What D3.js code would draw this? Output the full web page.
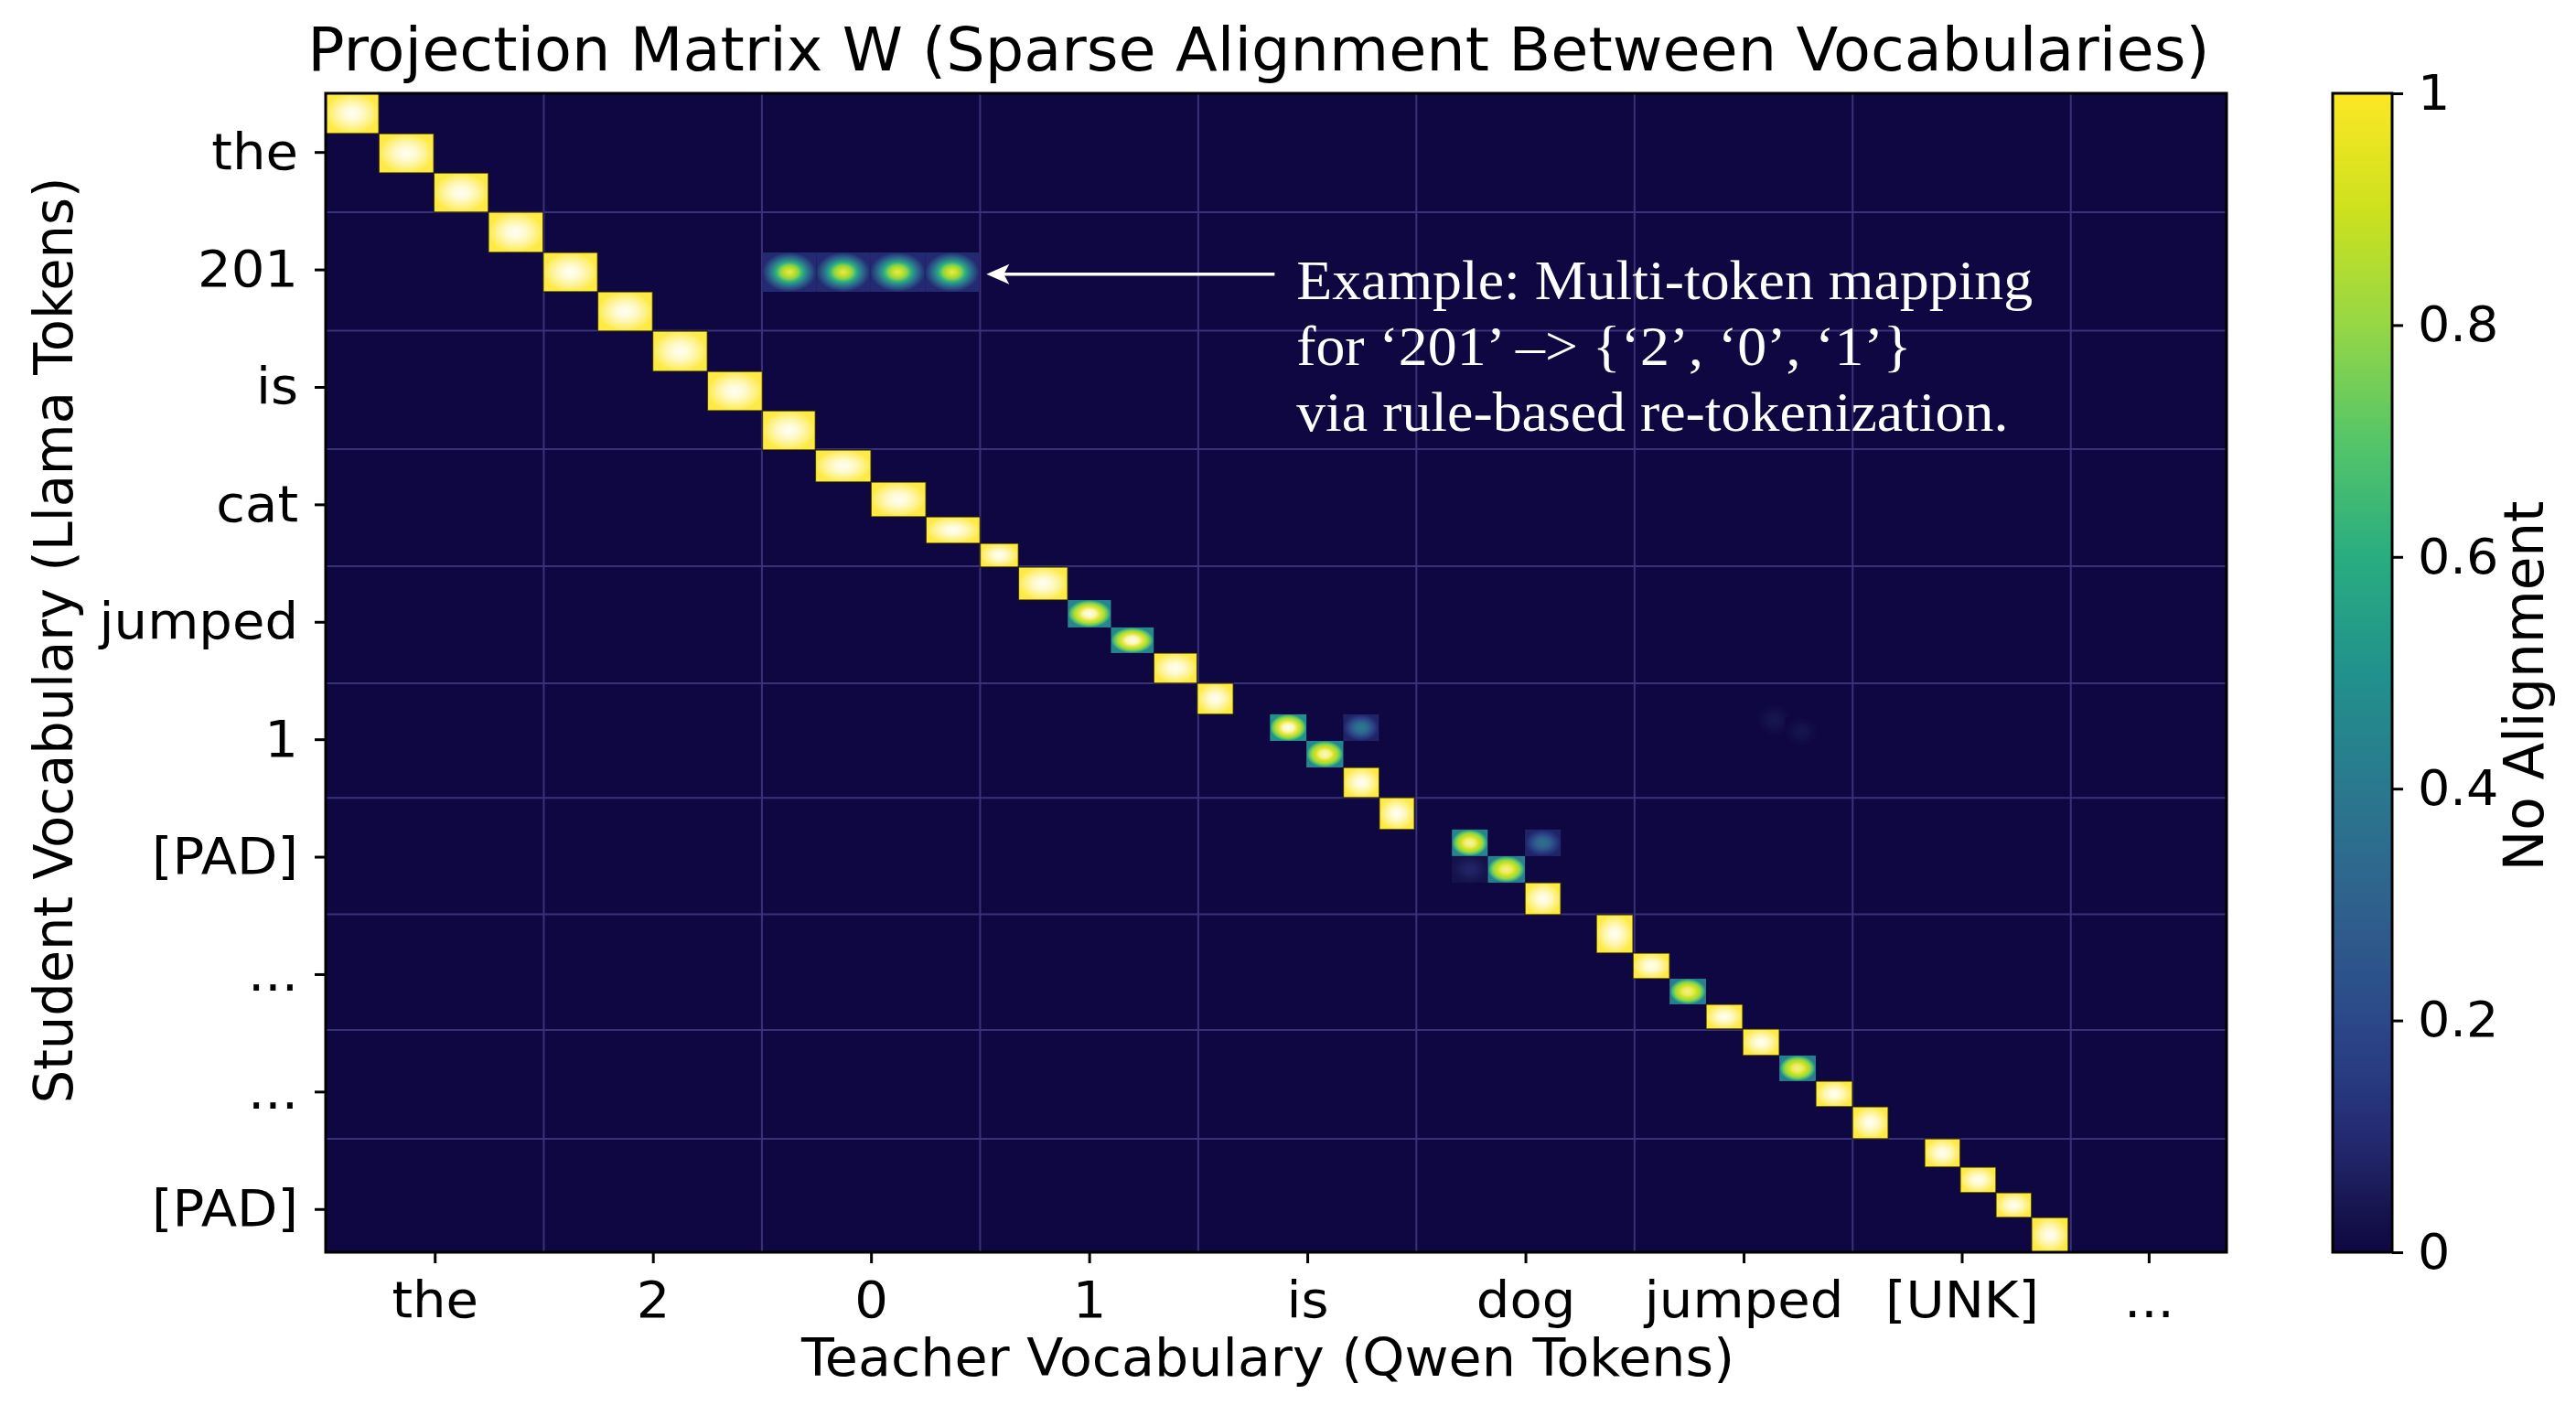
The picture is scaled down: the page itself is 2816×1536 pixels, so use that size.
<!DOCTYPE html>
<html><head><meta charset="utf-8">
<script src="https://cdn.jsdelivr.net/npm/d3@7"></script>
<style>
html,body{margin:0;padding:0;background:#fff;}
svg{display:block;}
</style></head><body>
<svg id="chart" width="2816" height="1536"></svg>
<script>
// ================= DATA =================
const teacherTokens = ["the", "2", "0", "1", "is", "dog", "jumped", "[UNK]", "..."];
const studentTokens = ["the", "201", "is", "cat", "jumped", "1", "[PAD]", "...", "...", "[PAD]"];
// visible extent of each axis, in token-band units
const teacherExtent = 8.714;
const studentExtent = 9.868;
// band boundaries (grid lines)
const teacherBandEdges = [1, 2, 3, 4, 5, 6, 7, 8];
const studentBandEdges = [1.012, 2.021, 3.03, 4.026, 5.023, 6.0, 6.99, 7.975, 8.902];
const colorbarTicks = [0, 0.2, 0.4, 0.6, 0.8, 1];

// non-zero entries of W: [teacherStart, teacherEnd, studentStart, studentEnd, peak, rim]
const diagonalCells = [
  [0.000, 0.244, 0.000, 0.343, 1, 1],
  [0.244, 0.496, 0.343, 0.678, 1, 1],
  [0.496, 0.746, 0.678, 1.012, 1, 1],
  [0.746, 0.997, 1.012, 1.355, 1, 1],
  [0.997, 1.247, 1.355, 1.690, 1, 1],
  [1.247, 1.499, 1.690, 2.025, 1, 1],
  [1.499, 1.750, 2.025, 2.368, 1, 1],
  [1.750, 2.002, 2.368, 2.703, 1, 1],
  [2.002, 2.245, 2.703, 3.037, 1, 1],
  [2.245, 2.500, 3.037, 3.310, 1, 1],
  [2.500, 2.752, 3.310, 3.606, 1, 1],
  [2.752, 3.000, 3.606, 3.832, 1, 1],
  [3.000, 3.176, 3.832, 4.034, 1, 1],
  [3.176, 3.402, 4.034, 4.315, 1, 1],
  [3.402, 3.600, 4.315, 4.548, 1, 0.45],
  [3.600, 3.796, 4.548, 4.766, 1, 0.45],
  [3.796, 3.995, 4.766, 5.023, 1, 1],
  [3.995, 4.161, 5.023, 5.288, 1, 1],
  [4.329, 4.496, 5.288, 5.514, 1, 0.5],
  [4.496, 4.665, 5.514, 5.740, 0.98, 0.45],
  [4.665, 4.830, 5.740, 5.997, 1, 1],
  [4.830, 4.991, 5.997, 6.269, 1, 1],
  [5.163, 5.327, 6.269, 6.495, 0.97, 0.45],
  [5.327, 5.498, 6.495, 6.721, 0.96, 0.42],
  [5.498, 5.662, 6.721, 6.994, 1, 1],
  [5.825, 5.993, 6.994, 7.321, 1, 1],
  [5.993, 6.161, 7.321, 7.539, 1, 1],
  [6.161, 6.328, 7.539, 7.757, 0.96, 0.42],
  [6.328, 6.496, 7.757, 7.967, 1, 1],
  [6.496, 6.664, 7.967, 8.193, 1, 1],
  [6.664, 6.831, 8.193, 8.411, 0.96, 0.42],
  [6.831, 6.999, 8.411, 8.629, 1, 1],
  [6.999, 7.163, 8.629, 8.902, 1, 1],
  [7.330, 7.493, 8.902, 9.143, 1, 1],
  [7.493, 7.657, 9.143, 9.361, 1, 1],
  [7.657, 7.820, 9.361, 9.572, 1, 1],
  [7.820, 7.988, 9.572, 9.868, 1, 1]
];
// '201' -> {'2','0','1'} multi-token row
const multiTokenCells = [
  [2.002, 2.249, 1.355, 1.690, 0.94, 0.1],
  [2.249, 2.496, 1.355, 1.690, 0.94, 0.1],
  [2.496, 2.748, 1.355, 1.690, 0.94, 0.1],
  [2.748, 2.995, 1.355, 1.690, 0.94, 0.1]
];
const weakCells = [
  [4.665, 4.828, 5.288, 5.514, 0.40, 0.08],
  [5.498, 5.662, 6.269, 6.495, 0.36, 0.08],
  [5.163, 5.327, 6.495, 6.721, 0.08, 0.03],
  [6.56, 6.72, 5.20, 5.47, 0.04, 0],
  [6.69, 6.84, 5.31, 5.56, 0.035, 0]
];
const annotationLines = ["Example: Multi-token mapping", "for \u2018201\u2019 \u2013> {\u20182\u2019, \u20180\u2019, \u20181\u2019}", "via rule-based re-tokenization."];
const annotationTextAt = [4.45, 1.752];
const arrowTail = [4.35, 1.54];
const arrowTip = [3.029, 1.54];

// ================= STYLE / LAYOUT =================
const W = 2816, H = 1536;
const plot = {left: 356, right: 2434, top: 102, bottom: 1369};
const cbBox = {left: 2550, right: 2615};
const SX = 1.03; // slight horizontal glyph stretch of the original
const SANS = "DejaVu Sans";
const cmapStops = [[0,'#0f0742'],[0.03,'#15124b'],[0.06,'#1c1d5c'],[0.1,'#242a71'],[0.15,'#283a80'],
  [0.2,'#2b4889'],[0.3,'#2f618d'],[0.4,'#2a788e'],[0.5,'#21918c'],[0.6,'#29ad80'],[0.7,'#55c568'],
  [0.8,'#95d745'],[0.9,'#cde11d'],[1,'#fde725']];
const cmap = d3.scaleLinear().domain(cmapStops.map(s => s[0])).range(cmapStops.map(s => s[1]))
  .interpolate(d3.interpolateRgb).clamp(true);

const svg = d3.select('#chart');
svg.append('rect').attr('width', W).attr('height', H).attr('fill', '#fff');
const defs = svg.append('defs');

const x = d3.scaleLinear().domain([0, teacherExtent]).range([plot.left, plot.right]);
const y = d3.scaleLinear().domain([0, studentExtent]).range([plot.top, plot.bottom]);

// background (zero entries)
svg.append('rect').attr('x', x(0)).attr('y', y(0))
  .attr('width', x(teacherExtent) - x(0)).attr('height', y(studentExtent) - y(0))
  .attr('fill', cmap(0));

// grid
const grid = svg.append('g').attr('stroke', '#3a3278').attr('stroke-width', 2);
grid.selectAll('.vx').data(teacherBandEdges).join('line')
  .attr('x1', d => x(d)).attr('x2', d => x(d)).attr('y1', y(0)).attr('y2', y(studentExtent));
grid.selectAll('.hy').data(studentBandEdges).join('line')
  .attr('y1', d => y(d)).attr('y2', d => y(d)).attr('x1', x(0)).attr('x2', x(teacherExtent));

// cells with radial shading
function cellStops(d) {
  const peak = d[4], rim = d[5];
  const flat = rim >= 0.3;
  const ts = flat ? [0, .3, .5, .7, .85, 1] : [0, .2, .35, .5, .7, 1];
  const ws = flat ? [1, .97, .88, .7, .45, 0] : [1, .93, .8, .6, .32, 0];
  return ts.map((t, i) => {
    const v = rim + (peak - rim) * ws[i];
    const glow = Math.max(0, Math.min(1, (v - 0.92) / 0.08)) * 0.95 * (1 - 0.85 * Math.pow(t, 1.5));
    return {t, c: d3.interpolateRgb(cmap(v), '#ffffff')(glow)};
  });
}
const allCells = [...diagonalCells, ...multiTokenCells, ...weakCells];
allCells.forEach((d, i) => {
  const g = defs.append('radialGradient').attr('id', 'cg' + i)
    .attr('cx', 0.5).attr('cy', 0.5).attr('r', 0.5);
  cellStops(d).forEach(s => g.append('stop').attr('offset', s.t).attr('stop-color', s.c));
});
svg.append('g').selectAll('rect').data(allCells).join('rect')
  .attr('x', d => x(d[0])).attr('y', d => y(d[2]))
  .attr('width', d => x(d[1]) - x(d[0])).attr('height', d => y(d[3]) - y(d[2]))
  .attr('fill', (d, i) => `url(#cg${i})`)
  .attr('stroke', d => d[5] >= 0.9 ? 'rgba(25,18,0,0.7)' : 'none')
  .attr('stroke-width', 1.5);

// frame
svg.append('rect').attr('x', plot.left).attr('y', plot.top)
  .attr('width', plot.right - plot.left).attr('height', plot.bottom - plot.top)
  .attr('fill', 'none').attr('stroke', '#000').attr('stroke-width', 3);

// axes
const teacherCenters = teacherTokens.map((_, i) => (i + Math.min(i + 1, teacherExtent)) / 2);
const gx = svg.append('g').attr('transform', `translate(0,${plot.bottom})`)
  .call(d3.axisBottom(x).tickValues(teacherCenters).tickFormat((d, i) => teacherTokens[i])
    .tickSize(12).tickPadding(19).tickSizeOuter(0));
gx.select('.domain').remove();
gx.selectAll('.tick line').attr('stroke', '#000').attr('stroke-width', 3);
gx.selectAll('.tick text').attr('font-family', SANS).attr('font-size', 56).attr('fill', '#000')
  .attr('transform', `scale(${SX},1)`);

const gy = svg.append('g').attr('transform', `translate(${plot.left},0)`)
  .call(d3.axisLeft(y).tickValues(studentTokens.map((_, i) => i + 0.5)).tickFormat((d, i) => studentTokens[i])
    .tickSize(12).tickPadding(18).tickSizeOuter(0));
gy.select('.domain').remove();
gy.selectAll('.tick line').attr('stroke', '#000').attr('stroke-width', 3);
gy.selectAll('.tick text').attr('font-family', SANS).attr('font-size', 56).attr('fill', '#000')
  .attr('x', -30 / SX).attr('transform', `scale(${SX},1)`);

function label(txt, px, py, size, opts = {}) {
  return svg.append('text').text(txt)
    .attr('font-family', opts.family || SANS).attr('font-size', size)
    .attr('fill', opts.fill || '#000').attr('text-anchor', opts.anchor || 'middle')
    .attr('transform', `translate(${px},${py}) scale(${SX},1)` + (opts.rotate ? ' rotate(-90)' : ''));
}
label('Projection Matrix W (Sparse Alignment Between Vocabularies)', 1376, 77, 65);
label('Teacher Vocabulary (Qwen Tokens)', 1386, 1504, 57);
label('Student Vocabulary (Llama Tokens)', 79, 700, 57.5, {rotate: true});

// annotation arrow + text
const ax0 = x(arrowTail[0]), ay0 = y(arrowTail[1]), ax1 = x(arrowTip[0]), ay1 = y(arrowTip[1]);
svg.append('line').attr('x1', ax0).attr('y1', ay0).attr('x2', ax1 + 16).attr('y2', ay1)
  .attr('stroke', '#fff').attr('stroke-width', 3.5);
svg.append('path').attr('d', 'M0,0 L25,-11 L19,0 L25,11 Z')
  .attr('transform', `translate(${ax1},${ay1})`).attr('fill', '#fff');
annotationLines.forEach((ln, i) => {
  label(ln, x(annotationTextAt[0]), y(annotationTextAt[1]) + i * 72, 62,
    {family: 'Liberation Serif', fill: '#fff', anchor: 'start'});
});

// colourbar
const cb = d3.scaleLinear().domain([0, 1]).range([plot.bottom, plot.top]);
const lg = defs.append('linearGradient').attr('id', 'cbg').attr('x1', 0).attr('y1', 1).attr('x2', 0).attr('y2', 0);
d3.range(0, 1.0001, 0.01).forEach(t => lg.append('stop').attr('offset', t).attr('stop-color', cmap(t)));
svg.append('rect').attr('x', cbBox.left).attr('y', cb(1)).attr('width', cbBox.right - cbBox.left)
  .attr('height', cb(0) - cb(1)).attr('fill', 'url(#cbg)').attr('stroke', '#000').attr('stroke-width', 3);
const gc = svg.append('g').attr('transform', `translate(${cbBox.right},0)`)
  .call(d3.axisRight(cb).tickValues(colorbarTicks)
    .tickFormat(d => (d === 0 || d === 1) ? String(d) : d.toFixed(1))
    .tickSize(12).tickPadding(16).tickSizeOuter(0));
gc.select('.domain').remove();
gc.selectAll('.tick line').attr('stroke', '#000').attr('stroke-width', 3);
gc.selectAll('.tick text').attr('font-family', SANS).attr('font-size', 54).attr('fill', '#000')
  .attr('x', 28 / SX).attr('transform', `scale(${SX},1)`);
label('No Alignment', 2780, 750, 59.5, {rotate: true});
</script>
</body></html>
